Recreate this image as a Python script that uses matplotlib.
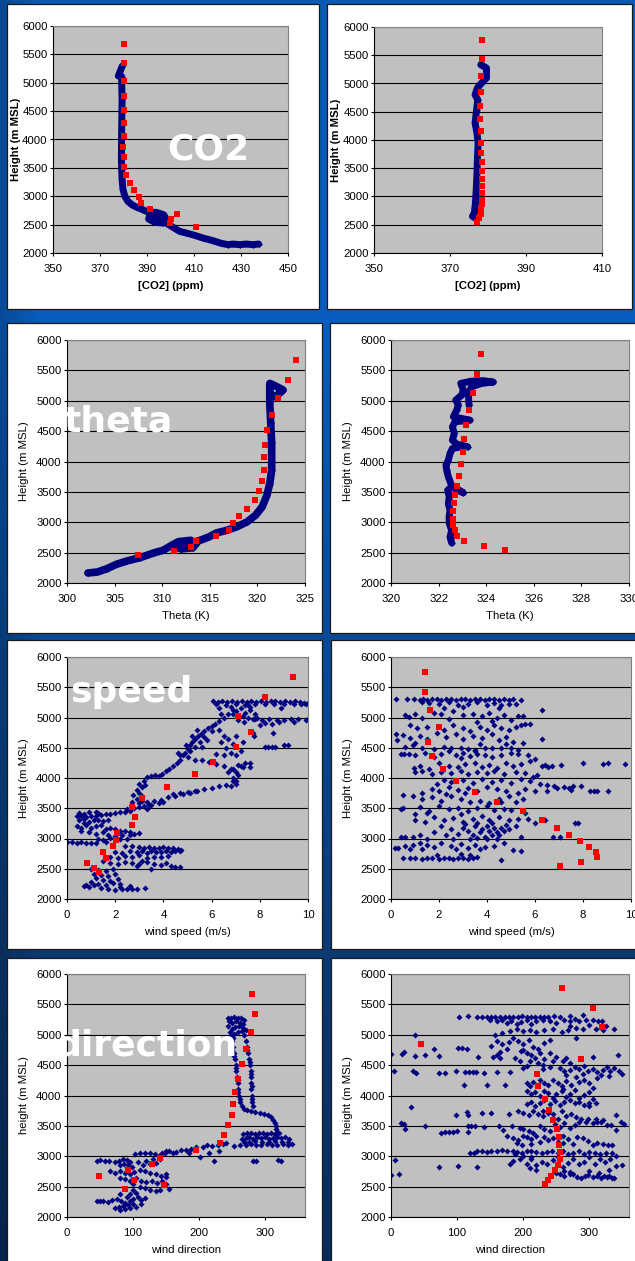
import matplotlib
matplotlib.use('Agg')
import matplotlib.pyplot as plt
import numpy as np
from matplotlib.patches import Rectangle

plt.rcParams['font.family'] = ['Liberation Sans', 'DejaVu Sans']

W, H = 635, 1261
NAVY = '#000080'
RED = '#ff0000'

# ======================= DATA =======================
# Heights in m MSL
height_ticks = [2000, 2500, 3000, 3500, 4000, 4500, 5000, 5500, 6000]

# ---- CO2 left (x = ppm, y = height)
co2L_band = [(379.5,5296),(377.8,5120),(379.2,5109),(379.4,4698),(379.2,4111),(379.1,3642),
             (379.4,3290),(379.8,3114),(380.6,2997),(381.9,2909),(383.6,2850),(385.7,2804),
             (388.3,2762),(390.4,2721),(394.0,2716),(397.1,2674),(398.2,2598),(396.8,2528),
             (393.3,2540),(390.7,2598),(391.1,2657),(394.0,2587),(398.2,2528),(401.1,2452),
             (403.9,2381),(406.7,2352),(410.3,2311),(413.8,2264),(418.1,2217),(421.6,2170),
             (424.5,2147),(426.6,2158),(429.4,2147),(432.3,2158),(435.1,2147),(437.5,2158)]
co2L_red = [(380.2,5677),(380.1,5343),(380.1,5038),(380.1,4768),(380.0,4516),(380.0,4282),
            (380.0,4059),(379.9,3871),(380.0,3689),(380.2,3519),(381.1,3367),(382.8,3232),
            (384.6,3103),(386.7,2985),(387.4,2880),(391.4,2780),(400.1,2598),(399.8,2528),
            (402.9,2686),(410.9,2457)]

# ---- CO2 right
co2R_band = [(378.1,5333),(379.6,5274),(379.6,5097),(378.3,5009),(377.2,4920),(376.6,4802),
             (377.3,4714),(377.0,4537),(376.6,4301),(377.1,4124),(377.4,3947),(377.2,3652),
             (377.1,3416),(376.9,3121),(376.7,2885),(376.4,2708),(375.9,2649),(376.6,2619)]
co2R_red = [(378.5,5764),(378.4,5434),(378.1,5133),(378.1,4850),(378.0,4596),(377.9,4378),
            (378.1,4153),(378.1,3947),(378.2,3770),(378.3,3611),(378.4,3451),(378.5,3310),
            (378.5,3180),(378.5,3062),(378.5,2944),(378.4,2873),(378.2,2779),(378.1,2690),
            (377.6,2619),(377.0,2549)]

# ---- Theta left (K)
thetaL_band = [(302.2,2165),(303.2,2181),(304.2,2236),(305.2,2308),(306.3,2363),(307.7,2418),
               (309.1,2495),(310.1,2538),(311.0,2621),(311.7,2680),(313.0,2703),(313.6,2650),
               (313.2,2580),(312.0,2560),(311.2,2600),(312.0,2660),(313.5,2680),(314.0,2703),
               (314.9,2758),(315.7,2824),(316.8,2868),(317.8,2923),(318.9,3005),(319.8,3115),
               (320.5,3253),(321.0,3445),(321.3,3637),(321.5,3857),(321.5,4297),(321.4,4626),
               (321.3,4956),(321.3,5286),(321.7,5258),(322.4,5203),(322.7,5176),(322.3,5121),
               (321.9,5066),(321.5,5100)]
thetaL_red = [(324.1,5670),(323.2,5346),(322.2,5038),(321.5,4764),(321.0,4511),(320.8,4275),
              (320.7,4066),(320.7,3868),(320.5,3687),(320.2,3522),(319.7,3363),(318.9,3225),
              (318.1,3099),(317.4,2989),(317.0,2879),(315.7,2775),(313.6,2687),(313.0,2593),
              (311.2,2527),(307.5,2456)]

# ---- Theta right (K)
thetaR_band = [(322.55,2659),(322.48,2758),(322.55,2868),(322.45,2978),(322.44,3088),
               (322.48,3198),(322.41,3308),(322.45,3418),(322.38,3527),(322.55,3582),
               (323.04,3484),(322.55,3600),(322.41,3747),(322.34,3857),(322.31,3940),
               (322.41,4022),(322.48,4132),(322.58,4214),(322.97,4242),(323.22,4242),
               (322.76,4286),(322.58,4352),(322.66,4462),(322.58,4571),(322.69,4654),
               (323.32,4680),(322.62,4736),(322.76,4846),(322.83,4929),(322.72,5011),
               (322.97,5093),(323.04,5176),(322.93,5286),(323.39,5324),(323.88,5330),
               (324.30,5308),(323.81,5286),(323.39,5231),(323.25,5121),(323.28,4929)]
thetaR_red = [(323.77,5764),(323.61,5434),(323.46,5132),(323.28,4852),(323.14,4599),
              (323.07,4363),(323.01,4154),(322.94,3956),(322.86,3769),(322.77,3604),
              (322.69,3456),(322.65,3319),(322.62,3181),(322.62,3060),(322.62,2962),
              (322.69,2868),(322.77,2769),(323.07,2687),(323.89,2610),(324.78,2538)]

# ---- Wind speed left (m/s)
speedL_blue = [
 (6.05,5270),(6.25,5262),(6.45,5275),(6.65,5260),(6.85,5270),(7.05,5255),(7.25,5272),(7.45,5263),
 (7.65,5276),(7.85,5260),(8.05,5270),(8.25,5255),(8.45,5266),(8.65,5275),(8.85,5258),(9.05,5270),
 (9.25,5255),(9.45,5265),(9.65,5248),(9.85,5240),(10.0,5232),(9.9,5220),
 (6.2,5215),(6.6,5200),(7.0,5225),(7.4,5210),(7.8,5230),(8.2,5215),(8.6,5225),(9.0,5230),
 (9.4,5215),(9.7,5225),(6.3,5150),(6.8,5170),(7.6,5180),(8.9,5160),
 (7.0,5100),(7.2,5150),(7.4,5080),(7.5,5000),(7.3,5030),(7.6,5120),(7.8,5060),(7.7,4980),
 (7.1,4960),(6.9,5050),(7.5,5200),(7.9,4990),(7.35,4920),
 (7.8,4970),(8.1,4960),(8.4,4975),(8.7,4965),(9.0,4960),(9.3,4975),(9.6,4970),(9.9,4960),
 (10.0,4980),(8.2,4910),(8.5,4900),(8.8,4920),(9.4,4930),(8.0,4880),
 (8.2,4510),(8.35,4505),(8.5,4515),(8.65,4510),(9.0,4540),(9.15,4545),(8.55,4750),(7.7,4750),
 (7.75,4700),
 (6.3,4800),(6.5,4700),(6.7,4650),(6.4,4600),(6.9,4560),(6.6,4500),(6.8,4420),(7.0,4380),
 (6.2,4400),(6.5,4380),(7.2,4450),(7.3,4600),(7.0,4700),
 (3.3,4020),(3.5,4030),(3.65,4045),(3.8,4040),(3.95,4060),(4.1,4120),(4.25,4150),(4.4,4200),
 (4.55,4250),(4.7,4300),(4.8,4380),(4.9,4420),(5.0,4480),(5.1,4540),(5.2,4600),(5.3,4650),
 (5.45,4700),(5.55,4730),(5.7,4770),(5.85,4820),(6.0,4860),(6.15,4900),(6.3,4950),(6.5,5000),
 (6.7,5060),(6.9,5120),(6.4,5050),
 (4.7,4380),(4.95,4550),(5.2,4700),(5.4,4800),(5.1,4450),(5.3,4520),(5.5,4600),(5.6,4520),
 (5.8,4620),(5.0,4350),(4.6,4420),(5.7,4680),(6.0,4780),
 (5.3,4300),(5.6,4290),(5.9,4260),(6.2,4230),(6.5,4200),(6.8,4150),(7.0,4100),(7.2,4200),
 (7.4,4250),(7.6,4250),(7.6,4180),(7.1,4050),(6.9,4000),(7.0,3950),(6.7,4100),(6.9,4150),
 (7.1,4220),(7.3,4180),(6.9,3950),(7.0,3900),(6.8,3870),
 (3.0,3580),(3.3,3600),(3.6,3620),(3.9,3640),(4.2,3680),(4.5,3700),(4.8,3740),(5.1,3760),
 (5.4,3790),(5.7,3810),(6.0,3840),(6.3,3860),(6.6,3890),(4.4,3740),(4.7,3760),(5.0,3770),
 (5.3,3780),(3.5,3560),(3.8,3580),(4.0,3600),
 (2.6,3470),(2.8,3500),(3.0,3520),(3.2,3540),(2.7,3600),(2.9,3650),(3.1,3700),(3.0,3760),
 (2.9,3800),(3.1,3850),(3.0,3900),(3.2,3950),(3.1,3620),(3.4,3560),(2.5,3480),(3.3,3480),
 (2.75,3720),(3.25,3880),
 (0.5,3420),(0.7,3410),(0.9,3430),(1.2,3440),(1.3,3420),(0.4,3370),(0.6,3380),(0.8,3350),
 (1.0,3380),(1.2,3370),(1.4,3390),(1.6,3400),(1.8,3410),(2.0,3420),(2.2,3430),(2.4,3440),
 (2.6,3450),(0.5,3300),(0.7,3320),(0.9,3280),(1.1,3300),(1.3,3310),(1.5,3290),(0.4,3200),
 (0.6,3180),(0.8,3220),(1.0,3180),(1.2,3200),(1.4,3220),(1.6,3160),(1.8,3180),(2.0,3150),
 (2.2,3130),(2.4,3120),(2.6,3100),(2.8,3080),(0.6,3120),(0.9,3100),(1.2,3080),(1.5,3110),
 (1.7,3060),(2.0,3040),(2.3,3050),(2.6,3060),(3.0,3090),(1.3,3000),(1.5,2980),(1.8,3010),
 (2.2,2990),(2.5,2990),(0.7,3250),(1.7,3300),
 (0.0,2940),(0.2,2935),(0.4,2930),(0.6,2935),(0.8,2925),(1.0,2930),(1.2,2920),(1.6,2950),
 (2.4,2870),(2.7,2880),(3.0,2860),(3.2,2850),(3.4,2860),(3.6,2850),(3.8,2850),(4.0,2860),
 (4.2,2840),(4.4,2850),(4.6,2830),(4.75,2810),(2.0,2780),(2.3,2760),(2.6,2790),(2.9,2770),
 (3.1,2790),(3.3,2760),(3.5,2800),(3.7,2780),(3.9,2770),(4.1,2790),(4.3,2780),(4.5,2790),
 (4.7,2800),(1.8,2700),(2.1,2680),(2.4,2710),(2.7,2690),(3.0,2720),(3.3,2680),(3.6,2700),
 (3.9,2690),(4.2,2710),(3.1,2630),(1.5,2620),(1.8,2600),(2.1,2580),(2.4,2610),(2.7,2600),
 (3.0,2580),(3.3,2610),(3.6,2580),(3.9,2560),(4.1,2600),(4.3,2540),(4.5,2530),(4.7,2535),
 (2.9,2550),(3.5,2500),
 (1.0,2500),(1.3,2480),(1.6,2470),(1.9,2490),(1.1,2420),(1.4,2400),(1.7,2380),(2.0,2420),
 (1.2,2340),(1.5,2320),(1.8,2300),(2.1,2330),(1.0,2280),(1.3,2250),(1.6,2230),(1.9,2260),
 (2.2,2240),(0.7,2220),(0.9,2200),(1.1,2230),(1.4,2180),(1.7,2160),(2.0,2150),(2.3,2170),
 (2.5,2160),(2.7,2170),(2.9,2170),(3.25,2175),(0.8,2230),(2.2,2200),(2.6,2220)]
speedL_red = [(9.39,5670),(8.22,5341),(7.09,5033),(7.64,4753),(7.03,4505),(6.04,4264),
              (5.32,4060),(4.15,3857),(3.10,3676),(2.69,3516),(2.81,3363),(2.70,3220),
              (2.08,3088),(2.04,2973),(1.92,2868),(1.50,2769),(1.61,2676),(0.83,2593),
              (1.12,2516),(1.32,2445)]

# ---- Wind speed right (m/s)
speedR_blue = [
 (0.2,5305),(0.65,5300),(0.95,5310),(1.2,5295),(1.35,5305),(1.5,5290),(1.7,5300),(1.9,5310),
 (2.1,5295),(2.3,5305),(2.5,5300),(2.7,5290),(2.9,5310),(3.1,5300),(3.3,5295),(3.5,5305),
 (3.7,5300),(3.9,5290),(4.1,5305),(4.3,5300),(4.5,5295),(4.7,5305),(4.9,5290),(5.1,5300),
 (5.4,5295),
 (1.3,5260),(1.6,5240),(2.0,5220),(2.4,5250),(2.8,5200),(3.2,5230),(3.6,5250),(4.0,5210),
 (4.3,5240),(4.6,5200),(4.9,5230),(5.2,5220),(6.3,5130),(3.0,5170),(4.5,5150),(2.2,5150),
 (0.6,5040),(0.75,5010),(1.0,5060),(1.8,5080),(2.1,5050),(2.6,5100),(3.0,5040),(3.4,5060),
 (3.8,5020),(4.1,5080),(4.4,5000),(4.7,5040),(5.0,4960),(5.3,5020),(5.5,5020),(5.8,4890),
 (5.6,4890),(4.2,4950),(3.6,4930),(2.4,4980),(1.3,4990),
 (0.8,4870),(1.1,4830),(1.5,4850),(2.2,4800),(2.6,4870),(3.0,4820),(3.3,4780),(3.7,4850),
 (4.0,4800),(4.3,4880),(4.6,4830),(4.9,4800),(5.2,4850),(5.4,4870),
 (0.2,4720),(0.25,4620),(0.5,4710),(0.8,4660),(1.2,4700),(1.5,4650),(1.9,4750),(2.3,4680),
 (2.7,4720),(3.0,4640),(3.4,4700),(3.8,4660),(4.2,4720),(4.5,4620),(4.8,4680),(5.1,4600),
 (5.5,4580),(6.3,4650),(1.0,4580),(0.9,4550),
 (0.6,4520),(1.3,4500),(1.8,4480),(2.2,4510),(2.5,4490),(2.9,4500),(3.2,4480),(3.5,4470),
 (3.9,4500),(4.2,4490),(4.6,4500),(5.0,4490),(5.3,4460),(4.8,4560),(3.7,4560),
 (0.4,4400),(0.55,4400),(0.75,4400),(1.0,4380),(1.4,4420),(1.8,4350),(2.1,4400),(2.4,4440),
 (2.7,4380),(3.0,4420),(3.3,4360),(3.6,4400),(3.9,4380),(4.2,4340),(4.6,4380),(5.0,4420),
 (5.3,4400),(5.7,4380),(6.0,4310),(2.9,4330),(3.5,4450),
 (0.95,4160),(1.2,4200),(1.6,4150),(2.0,4240),(2.4,4200),(2.8,4180),(3.1,4230),(3.5,4250),
 (3.8,4190),(4.1,4220),(4.4,4170),(4.8,4250),(5.1,4200),(5.4,4230),(6.3,4200),(6.4,4210),
 (6.55,4190),(6.7,4200),(7.1,4210),(8.0,4250),(8.85,4230),(9.05,4240),(9.75,4230),(5.8,4280),
 (1.0,4100),(1.3,4120),(1.7,4060),(2.1,4100),(2.5,4080),(2.9,4120),(3.2,4060),(3.6,4100),
 (4.0,4080),(4.3,4120),(4.7,4060),(5.2,4100),(5.6,4080),(6.1,4050),(5.9,4020),
 (1.9,3900),(2.2,3970),(2.5,3930),(3.0,3960),(3.4,3920),(3.8,3990),(4.2,3940),(4.6,3960),
 (5.0,3920),(5.4,3980),(5.8,3950),(6.2,3900),(6.5,3880),(6.8,3860),
 (1.3,3750),(1.7,3820),(2.0,3780),(2.4,3850),(2.8,3800),(3.2,3830),(3.6,3780),(4.0,3850),
 (4.4,3810),(4.8,3790),(5.3,3760),(5.6,3810),(6.0,3790),(7.2,3850),(7.4,3830),(7.6,3860),
 (7.9,3860),(8.3,3780),(8.45,3790),(8.6,3790),(9.05,3790),(6.5,3790),(6.9,3840),(7.5,3800),
 (0.5,3720),
 (0.9,3700),(1.3,3650),(1.7,3680),(2.1,3620),(2.5,3700),(2.9,3650),(3.3,3600),(3.7,3620),
 (4.1,3590),(4.5,3650),(4.9,3700),(5.2,3600),(5.5,3660),(2.3,3730),(3.1,3750),(4.6,3600),
 (0.4,3480),(0.5,3500),(1.2,3520),(1.6,3460),(2.0,3540),(2.4,3480),(2.8,3510),(3.2,3460),
 (3.6,3500),(4.0,3540),(4.3,3470),(4.7,3490),(5.0,3470),(5.6,3420),(1.0,3400),
 (1.0,3300),(1.4,3280),(1.8,3360),(2.2,3300),(2.6,3340),(3.0,3280),(3.4,3320),(3.8,3380),
 (4.1,3300),(4.5,3350),(4.9,3300),(5.3,3330),(5.7,3320),(6.0,3250),(6.4,3300),(7.65,3250),
 (7.8,3250),(2.9,3400),(1.5,3420),
 (1.8,3100),(2.1,3200),(2.5,3150),(2.8,3080),(3.0,3180),(3.2,3120),(3.4,3050),(3.5,3200),
 (3.7,3100),(3.8,3160),(3.9,3020),(4.0,3200),(4.1,3130),(4.2,3060),(4.3,3170),(4.4,3100),
 (4.5,3050),(4.6,3180),(4.7,3120),(4.8,3220),(4.9,3150),(2.3,3050),(2.6,3000),(3.3,3000),
 (3.6,3010),(4.0,3000),(4.4,3000),(5.4,3020),(6.75,3020),(7.05,3020),(1.5,3000),(1.2,3050),
 (0.9,3020),(0.6,3030),(0.4,3030),(3.1,3240),(3.6,3250),(4.2,3250),(5.2,3200),
 (0.15,2840),(0.3,2850),(0.6,2870),(0.9,2900),(1.2,2920),(1.5,2900),(1.8,2860),(2.1,2930),
 (2.5,2880),(2.9,2910),(3.2,2850),(3.5,2900),(3.9,2860),(4.3,2880),(4.7,2920),(5.1,2810),
 (5.4,2800),(0.8,2830),(1.3,2830),(2.7,2830),(3.7,2820),
 (0.5,2670),(0.8,2670),(1.0,2680),(1.3,2660),(1.5,2670),(1.7,2680),(2.0,2660),(2.2,2670),
 (2.4,2680),(2.6,2660),(2.8,2680),(3.0,2670),(3.2,2660),(3.4,2670),(3.6,2700),(4.58,2650),
 (1.9,2720),(2.9,2740),(3.3,2720)]
speedR_red = [(1.41,5753),(1.43,5423),(1.64,5121),(1.98,4846),(1.55,4588),(1.72,4363),
              (2.18,4143),(2.70,3951),(3.50,3764),(4.42,3599),(5.48,3456),(6.28,3308),
              (6.92,3181),(7.42,3066),(7.89,2956),(8.25,2857),(8.53,2769),(8.60,2687),
              (7.92,2604),(7.06,2538)]

# ---- Wind direction left (deg)
dirL_blue = [
 (243,5270),(248,5280),(253,5285),(258,5280),(263,5270),(267,5250),(245,5220),(250,5200),
 (256,5230),(262,5200),(266,5180),(244,5150),(249,5100),(254,5120),(260,5140),(266,5110),
 (246,5050),(252,5020),(258,5050),(264,5060),(270,5080),(247,4980),(251,4950),
 (249,4900),(251,4800),(252,4700),(254,4600),(255,4500),(256,4400),(257,4300),(258,4200),
 (259,4100),(260,4000),(262,3900),(265,3820),(268,3770),(248,4850),(250,4750),(253,4650),
 (256,4450),(258,4250),(259,4050),(261,3950),
 (268,5000),(270,4900),(272,4800),(274,4700),(276,4600),(277,4500),(278,4400),(279,4300),
 (279,4200),(279,4100),(280,4000),(280,3900),(281,3820),(273,4750),(277,4550),(279,4350),
 (280,4150),(280,3950),
 (272,3760),(278,3740),(285,3730),(292,3720),(298,3700),(304,3680),(309,3650),(312,3600),
 (314,3550),(316,3500),(316,3450),(318,3400),
 (266,3370),(272,3380),(278,3390),(284,3370),(290,3380),(296,3390),(302,3370),(308,3380),
 (314,3360),(320,3390),(270,3300),(276,3310),(282,3290),(288,3320),(294,3300),(300,3310),
 (306,3290),(312,3300),(318,3320),(324,3300),(330,3310),(336,3280),(264,3280),(275,3240),
 (285,3250),(295,3230),(305,3240),(315,3250),(325,3230),(335,3240),(253,3170),(262,3180),
 (270,3190),(278,3200),(286,3180),(294,3190),(302,3200),(310,3180),(318,3190),(326,3200),
 (334,3190),(341,3200),(268,3230),
 (281,2930),(286,2930),(319,2940),(323,2920),
 (165,3070),(172,3100),(180,3110),(188,3120),(195,3150),(205,3160),(212,3180),(220,3170),
 (228,3190),(236,3200),(241,3210),(201,2990),(223,2930),(215,3060),(230,3080),(185,3050),
 (160,3060),(150,3080),(143,3050),
 (103,3040),(110,3050),(118,3060),(125,3050),(133,3040),(140,3020),(148,3060),(155,3090),
 (46,2930),(50,2940),(57,2930),(63,2930),
 (72,2900),(78,2930),(84,2960),(90,2940),(96,2910),(86,2880),(92,2850),(98,2820),(80,2860),
 (65,2750),(72,2730),(80,2760),(88,2720),(95,2700),(102,2740),(110,2780),(118,2760),
 (126,2730),(134,2700),(142,2680),(150,2660),(150,2700),(115,2850),(125,2870),(135,2890),
 (108,2900),(120,2930),(130,2950),(140,2960),
 (80,2650),(88,2620),(95,2600),(105,2640),(112,2600),(120,2570),(128,2600),(136,2560),
 (143,2600),(150,2540),(155,2460),(110,2500),(118,2480),(126,2450),(135,2420),(140,2450),
 (100,2550),
 (45,2270),(50,2260),(55,2270),(62,2240),(68,2280),(75,2300),(82,2260),(88,2230),(95,2260),
 (100,2300),(108,2330),(112,2280),(100,2220),(92,2200),(85,2180),(78,2160),(72,2140),
 (80,2120),(88,2130),(96,2140),(104,2170),(112,2220),(118,2320),(90,2330),(95,2380),
 (105,2400),(80,2380),(100,2450)]
dirL_red = [(279.9,5676),(284.4,5346),(277.9,5044),(270.9,4758),(264.8,4511),(258.3,4275),
            (253.8,4060),(250.8,3863),(249.7,3681),(243.7,3516),(237.7,3357),(231.2,3220),
            (195.5,3099),(140.7,2978),(128.1,2874),(92.5,2775),(48.2,2681),(101.0,2604),
            (147.2,2527),(88.4,2456)]

# ---- Wind direction right (deg)
dirR_blue = [
 (103,5285),(117,5305),(130,5285),(138,5290),(145,5295),(152,5290),(158,5300),(165,5285),
 (172,5295),(178,5290),(185,5300),(192,5290),(198,5305),(205,5295),(212,5285),(218,5300),
 (225,5290),(232,5300),(238,5290),(246,5305),(256,5300),(270,5310),(290,5320),
 (150,5250),(160,5220),(168,5240),(175,5200),(182,5230),(190,5170),(197,5210),(205,5240),
 (212,5180),(220,5220),(230,5250),(240,5230),(250,5200),(262,5240),(270,5220),(278,5260),
 (285,5230),(295,5240),(305,5250),(313,5230),(319,5225),(325,5140),(300,5160),(290,5100),
 (280,5110),(310,5090),(320,5085),(338,5090),(270,5150),
 (157,5000),(168,5030),(180,5060),(190,5090),(200,5060),(210,5080),(220,5040),(232,5070),
 (245,5090),(258,5050),(268,5070),(280,4950),(37,4995),
 (152,4820),(160,4900),(168,4850),(178,4880),(185,4950),(192,4900),(200,4850),(208,4920),
 (215,4800),(222,4760),(232,4870),(240,4920),(175,4770),(165,4720),(196,4730),
 (0,4690),(17,4690),(20,4710),(37,4650),(52,4670),(65,4770),(73,4650),(102,4780),(108,4790),
 (115,4770),(132,4640),(155,4640),(160,4660),(165,4620),(200,4750),(205,4700),(212,4660),
 (218,4620),(225,4700),(232,4600),(240,4700),(250,4640),(265,4620),(305,4630),(343,4670),
 (188,4620),(195,4560),(210,4560),(222,4540),(230,4510),(205,4480),(200,4460),(245,4560),
 (260,4570),(270,4540),
 (5,4410),(33,4410),(38,4370),(72,4370),(82,4370),(99,4400),(112,4380),(118,4380),(124,4385),
 (128,4380),(140,4375),(160,4390),(180,4380),(230,4440),(240,4470),(255,4450),(262,4400),
 (270,4420),(278,4470),(285,4430),(292,4480),(298,4410),(305,4440),(312,4380),(320,4420),
 (326,4470),(332,4400),(338,4450),(345,4410),(350,4360),(330,4320),(318,4330),(290,4350),
 (265,4330),
 (110,4165),(145,4165),(173,4175),(205,4200),(210,4150),(215,4230),(225,4250),(232,4210),
 (238,4170),(245,4250),(252,4200),(258,4160),(265,4240),(272,4180),(280,4300),(285,4230),
 (292,4260),(300,4200),(305,4130),(312,4280),
 (205,4080),(212,4030),(218,4060),(225,3990),(232,4080),(238,4040),(245,3960),(250,4020),
 (258,4070),(265,3980),(270,4030),(278,4090),(285,3960),(292,4010),(300,4050),(305,3950),
 (260,4100),
 (31,3805),(205,3860),(212,3900),(218,3830),(225,3880),(232,3920),(240,3860),(248,3910),
 (255,3850),(262,3890),(270,3930),(278,3870),(285,3900),(292,3840),(300,3880),(300,3820),
 (310,3870),
 (99,3680),(115,3725),(116,3680),(137,3715),(152,3715),(178,3700),(192,3740),(200,3720),
 (208,3680),(215,3750),(222,3700),(230,3660),(238,3720),(245,3690),(258,3740),(265,3660),
 (272,3700),(280,3640),(288,3620),(298,3610),(310,3620),(320,3600),(340,3680),(252,3620),
 (230,3750),
 (15,3545),(19,3535),(21,3450),(51,3505),(75,3375),(82,3405),(88,3400),(94,3405),(100,3420),
 (117,3505),(121,3490),(127,3490),(140,3480),(163,3505),(170,3440),(183,3490),(195,3460),
 (200,3450),(208,3420),(215,3390),(225,3500),(232,3450),(240,3410),(248,3530),(255,3480),
 (262,3540),(270,3460),(278,3510),(285,3570),(295,3560),(305,3540),(312,3560),(318,3570),
 (326,3520),(333,3510),(340,3440),(348,3560),(352,3530),(117,3405),
 (175,3330),(185,3300),(192,3270),(200,3340),(206,3320),(212,3290),(220,3340),(226,3240),
 (232,3320),(238,3270),(245,3300),(252,3230),(260,3340),(268,3290),(275,3200),(282,3320),
 (290,3300),(298,3250),(305,3180),(312,3210),(320,3200),(328,3180),(335,3180),(212,3200),
 (198,3190),(190,3210),(260,3220),
 (120,3060),(125,3050),(130,3080),(138,3090),(145,3070),(152,3090),(160,3080),(168,3100),
 (176,3080),(184,3090),(190,3070),(198,3060),(205,3080),(212,3090),(220,3070),(228,3060),
 (236,3070),(244,3090),(252,3060),(260,3090),(268,3040),(276,3050),(285,3080),(292,3040),
 (300,3070),(308,3060),(316,3040),(325,3060),(334,3050),(340,3010),(188,3040),(200,3000),
 (212,2990),
 (6,2940),(72,2830),(102,2840),(130,2825),(180,2880),(185,2920),(195,2950),(205,2880),
 (212,2960),(220,2850),(228,2910),(236,2880),(245,2940),(252,2990),(260,2820),(268,2890),
 (276,2950),(284,2880),(292,2910),(300,2990),(308,2870),(316,2960),(324,2900),(332,2960),
 (340,2840),(350,2860),(220,2780),(210,2810),
 (0,2695),(12,2705),(250,2730),(255,2700),(262,2680),(270,2710),(276,2700),(282,2660),
 (288,2650),(294,2670),(298,2690),(305,2660),(312,2680),(318,2650),(322,2670),(326,2660),
 (330,2670),(335,2650),(338,2640),(300,2750),(315,2730),(330,2770),(262,2760),(270,2740)]
dirR_red = [(258.6,5763),(305.1,5433),(319.7,5129),(287.4,4595),(45.0,4848),(221.2,4358),
            (222.2,4149),(232.3,3950),(238.9,3763),(245.5,3603),(251.0,3449),(253.5,3311),
            (254.5,3179),(255.6,3063),(255.1,2953),(252.0,2854),(247.5,2771),(242.4,2678),
            (236.9,2606),(232.3,2540)]

# titles written over the charts (panel index they sit on)
panel_titles = ['CO2', 'theta', 'speed', 'direction']
title_panels = [0, 2, 4, 6]

# ======================= LAYOUT / STYLE =======================
fig = plt.figure(figsize=(W / 100, H / 100), dpi=100)

# background (slide) axes
bg = fig.add_axes([0, 0, 1, 1], zorder=-1)
bg.set_xlim(0, W)
bg.set_ylim(H, 0)
bg.axis('off')
stops_y = np.array([0, 315, 636, 953, H])
stops_c = np.array([[12, 90, 180], [10, 92, 190], [9, 74, 150], [12, 58, 115], [8, 44, 90]]) / 255.0
yy = np.arange(H)
col = np.stack([np.interp(yy, stops_y, stops_c[:, k]) for k in range(3)], axis=1)
img = np.repeat(col[:, None, :], W, axis=1)
xx = np.arange(W)
shade = 0.80 + 0.20 * np.clip(xx / 40.0, 0, 1)
img = img * shade[None, :, None]
bg.imshow(img, extent=[0, W, H, 0], aspect='auto', interpolation='bilinear')

boxes = [(7, 4, 319, 309), (327, 4, 632, 309),
         (7, 323, 322, 633), (330, 323, 640, 633),
         (7, 640, 322, 949), (331, 640, 640, 949),
         (7, 958, 322, 1270), (331, 958, 640, 1270)]
for (l, t, r, b) in boxes:
    bg.add_patch(Rectangle((l, t), r - l, b - t, facecolor='white', edgecolor='#1a1a1a', lw=0.9))

panels = [
    dict(rect=(53, 26, 288, 253), xlim=(350, 450), xticks=[350, 370, 390, 410, 430, 450],
         xlabel='[CO2] (ppm)', ylabel='Height (m MSL)', bold=True, ylab_off=32,
         blue=co2L_band, red=co2L_red, band=5.0),
    dict(rect=(374, 27, 602, 253), xlim=(350, 410), xticks=[350, 370, 390, 410],
         xlabel='[CO2] (ppm)', ylabel='Height (m MSL)', bold=True, ylab_off=33,
         blue=co2R_band, red=co2R_red, band=5.0),
    dict(rect=(67, 340, 305, 583), xlim=(300, 325), xticks=[300, 305, 310, 315, 320, 325],
         xlabel='Theta (K)', ylabel='Height (m MSL)', bold=False, ylab_off=38,
         blue=thetaL_band, red=thetaL_red, band=5.5),
    dict(rect=(391, 340, 629, 583), xlim=(320, 330), xticks=[320, 322, 324, 326, 328, 330],
         xlabel='Theta (K)', ylabel='Height (m MSL)', bold=False, ylab_off=38,
         blue=thetaR_band, red=thetaR_red, band=5.0),
    dict(rect=(67, 657, 308, 899), xlim=(0, 10), xticks=[0, 2, 4, 6, 8, 10],
         xlabel='wind speed (m/s)', ylabel='Height (m MSL)', bold=False, ylab_off=38,
         blue=speedL_blue, red=speedL_red, band=None),
    dict(rect=(391, 657, 631, 899), xlim=(0, 10), xticks=[0, 2, 4, 6, 8, 10],
         xlabel='wind speed (m/s)', ylabel='Height (m MSL)', bold=False, ylab_off=38,
         blue=speedR_blue, red=speedR_red, band=None),
    dict(rect=(67, 974, 305, 1217), xlim=(0, 360), xticks=[0, 100, 200, 300],
         xlabel='wind direction', ylabel='height (m MSL)', bold=False, ylab_off=38,
         blue=dirL_blue, red=dirL_red, band=None),
    dict(rect=(391, 974, 629, 1217), xlim=(0, 360), xticks=[0, 100, 200, 300],
         xlabel='wind direction', ylabel='height (m MSL)', bold=False, ylab_off=38,
         blue=dirR_blue, red=dirR_red, band=None),
]

FS = 8.2
axes = []
for p in panels:
    l, t, r, b = p['rect']
    wpx, hpx = r - l, b - t
    ax = fig.add_axes([l / W, 1 - b / H, wpx / W, hpx / H])
    axes.append(ax)
    ax.set_facecolor('#c0c0c0')
    ax.set_xlim(*p['xlim'])
    ax.set_ylim(2000, 6000)
    ax.set_xticks(p['xticks'])
    ax.set_yticks(height_ticks)
    ax.yaxis.grid(True, color='black', lw=0.8)
    ax.set_axisbelow(True)
    for s in ['left', 'bottom']:
        ax.spines[s].set_color('black')
        ax.spines[s].set_linewidth(0.8)
    for s in ['top', 'right']:
        ax.spines[s].set_color('#808080')
        ax.spines[s].set_linewidth(0.8)
    ax.tick_params(axis='both', direction='out', length=2.3, width=0.8, labelsize=FS,
                   colors='black')
    ax.tick_params(axis='x', pad=5.8)
    ax.tick_params(axis='y', pad=1.6)
    fw = 'bold' if p['bold'] else 'normal'
    ax.set_xlabel(p['xlabel'], fontsize=FS, fontweight=fw)
    ax.set_ylabel(p['ylabel'], fontsize=FS, fontweight=fw)
    ax.xaxis.set_label_coords(0.5, -28.0 / hpx)
    ax.yaxis.set_label_coords(-p['ylab_off'] / wpx, 0.5)

    bx, by = np.array(p['blue'], dtype=float).T
    if p['band'] is not None:
        ax.plot(bx, by, '-', color=NAVY, lw=p['band'], solid_joinstyle='round',
                solid_capstyle='round', zorder=2, clip_on=True)
        ax.plot(bx, by, 'D', color=NAVY, ms=3.5, mew=0, zorder=2)
    else:
        ax.scatter(bx, by, marker='D', s=9.5, c=NAVY, linewidths=0, zorder=2)
    rx, ry = np.array(p['red'], dtype=float).T
    ax.scatter(rx, ry, marker='s', s=20, c=RED, linewidths=0, zorder=4)

# big white titles, placed in figure pixels but clipped to their plot area
title_pos = [(167, 159), (64, 432), (70, 702), (55, 1055)]
for txt, k, (x, y) in zip(panel_titles, title_panels, title_pos):
    axes[k].text(x / W, 1 - y / H, txt, transform=fig.transFigure, color='white',
                 fontsize=26, fontweight='bold', family='DejaVu Sans', ha='left',
                 va='baseline', zorder=10, clip_on=True)

fig.savefig('out.png', dpi=100)
